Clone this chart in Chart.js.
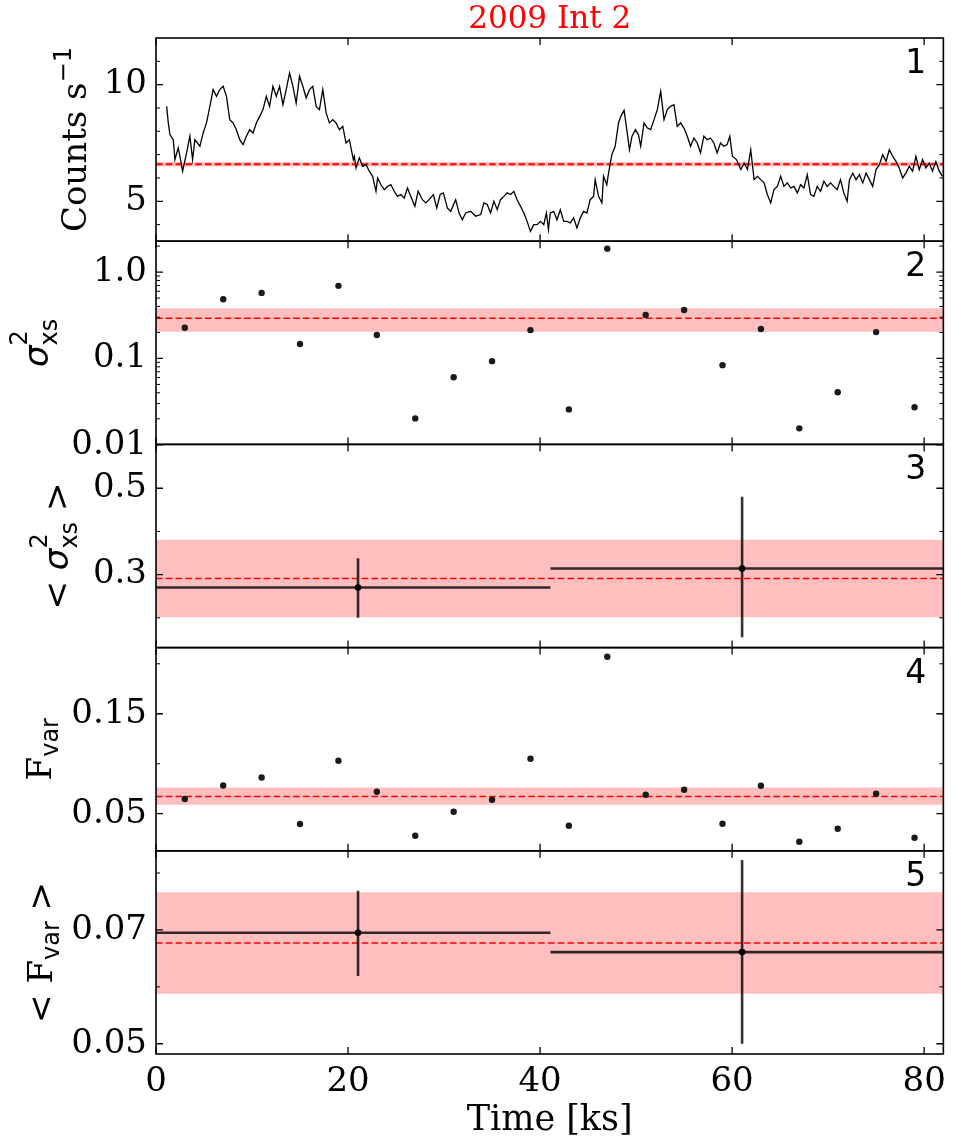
<!DOCTYPE html>
<html>
<head>
<meta charset="utf-8">
<script src="https://cdn.jsdelivr.net/npm/chart.js@4.4.0/dist/chart.umd.min.js"></script>
<style>
  html, body { margin: 0; padding: 0; background: #fff; }
</style>
</head>
<body>
<canvas id="c" width="954" height="1146"></canvas>
<script>
// panel 1: light curve
const lcTime = [1.11,1.28,1.45,1.80,1.97,2.32,2.49,2.77,3.18,3.53,3.81,4.05,4.57,4.91,5.26,5.61,5.95,6.30,6.64,6.99,
  7.34,7.68,8.03,8.37,8.72,9.07,9.41,9.76,10.10,10.45,10.80,11.14,11.49,11.83,12.18,12.53,12.87,13.22,13.56,13.91,
  14.26,14.60,14.95,15.29,15.64,15.99,16.33,16.68,17.02,17.37,17.72,18.06,18.41,18.75,19.10,19.45,19.79,20.14,20.55,
  20.66,20.83,21.18,21.52,21.87,22.22,22.56,22.91,23.08,23.43,23.77,24.12,24.46,24.81,25.16,25.50,25.85,26.19,26.54,
  26.96,27.30,27.75,28.10,28.44,28.89,29.24,29.59,29.93,30.35,30.69,31.21,31.56,31.90,32.25,32.77,33.29,33.81,34.15,
  34.50,34.84,35.19,35.54,35.88,36.23,36.57,36.92,37.27,37.61,37.96,38.31,38.65,39.00,39.34,39.69,40.04,40.38,40.66,
  40.87,41.07,41.42,41.76,42.11,42.46,42.80,43.15,43.49,43.84,44.19,44.53,44.88,45.22,45.57,45.74,46.09,46.44,46.61,
  46.95,47.13,47.47,47.82,48.17,48.41,48.75,49.03,49.31,49.58,49.93,50.24,50.48,50.83,51.18,51.52,51.87,52.21,52.56,
  52.91,53.25,53.60,53.94,54.29,54.64,54.98,55.33,55.67,56.02,56.37,56.71,57.06,57.40,57.75,58.10,58.44,58.79,59.13,
  59.48,59.76,60.03,60.45,60.91,61.25,61.60,61.94,62.29,62.64,62.98,63.33,63.67,64.02,64.36,64.71,65.06,65.40,65.75,
  66.10,66.44,66.79,67.13,67.48,67.83,68.17,68.52,68.86,69.21,69.56,69.90,70.25,70.59,70.94,71.29,71.63,71.98,72.22,
  72.57,72.91,73.26,73.61,73.95,74.30,74.64,74.99,75.34,75.68,76.03,76.37,76.72,77.07,77.41,77.76,78.10,78.45,78.80,
  79.14,79.49,79.84,80.18,80.53,80.87,81.22,81.57,81.91];
const lcRate = [9.07,8.36,7.86,7.64,6.79,7.29,6.93,6.29,7.07,7.79,6.79,7.64,7.36,7.93,8.36,9.07,9.79,9.50,9.79,9.93,
  9.50,8.50,8.36,8.07,7.64,7.43,7.79,8.07,7.93,8.36,8.64,8.93,9.50,9.07,9.93,9.50,9.93,9.14,9.79,10.50,
  9.93,9.21,10.36,9.93,9.43,9.79,9.93,9.07,8.93,9.79,8.79,8.36,8.50,8.36,8.07,8.21,7.50,7.64,6.79,
  6.93,6.43,6.86,6.50,6.57,6.29,6.07,5.43,6.00,5.71,5.50,5.64,5.71,5.43,5.21,5.29,5.14,5.57,5.21,
  4.79,5.43,5.07,4.93,5.07,5.29,4.71,5.29,5.36,4.71,4.57,5.07,4.50,4.21,4.50,4.57,4.36,4.43,4.93,
  4.86,4.50,5.00,4.64,5.07,5.21,5.36,5.29,5.43,5.07,4.79,4.50,4.14,3.71,4.00,4.00,4.14,4.00,4.50,
  3.79,4.50,4.57,4.21,4.64,4.14,4.14,4.07,4.29,3.86,4.29,4.57,4.50,5.07,5.21,5.93,5.21,4.93,6.07,
  5.71,6.21,7.00,7.36,8.36,8.64,8.90,8.07,7.21,7.79,8.07,7.86,7.36,8.36,8.14,8.07,8.50,8.93,9.71,
  8.50,8.93,9.07,9.14,8.21,8.36,8.14,7.79,7.36,7.71,7.50,7.07,7.79,7.64,7.71,7.50,7.07,7.50,7.36,
  7.43,7.79,6.93,6.79,6.36,6.64,6.36,7.21,5.93,6.07,5.93,5.79,5.29,4.93,5.50,5.64,6.07,5.64,5.79,
  5.57,5.64,5.36,5.71,5.57,6.14,5.29,5.21,5.64,5.43,5.86,5.64,5.79,5.64,5.50,5.93,5.36,5.00,5.93,
  6.21,5.93,6.14,5.79,6.21,5.93,5.64,6.36,6.57,7.00,6.71,7.21,6.93,6.71,6.43,6.00,6.21,6.50,6.29,
  6.93,6.36,6.79,6.43,6.64,6.29,6.71,6.29,6.07];
const lcMean = 6.59;
const lcBand = [6.49, 6.69];

// panels 2 and 4: per-segment values
const binTime = [3, 7, 11, 15, 19, 23, 27, 31, 35, 39, 43, 47, 51, 55, 59, 63, 67, 71, 75, 79];
const sigmaXs = [0.227, 0.485, 0.574, 0.147, 0.693, 0.187, 0.0202, 0.0606, 0.093, 0.213,
  0.0257, 1.87, 0.319, 0.364, 0.0836, 0.219, 0.0155, 0.0406, 0.202, 0.0272];
const sigmaMean = 0.292;
const sigmaBand = [0.204, 0.381];
const fVar = [0.0647, 0.0783, 0.0863, 0.0397, 0.103, 0.072, 0.028, 0.052, 0.064, 0.105,
  0.038, 0.207, 0.069, 0.074, 0.040, 0.078, 0.022, 0.035, 0.070, 0.026];
const fVarMean = 0.0673;
const fVarBand = [0.059, 0.0763];

// panels 3 and 5: averages with error bars
const avgTime = [21.04, 61.04];
const avgLeft = [0, 41.08];
const avgRight = [41.08, 82];
const avgSigma = [0.270, 0.314];
const avgSigmaLo = [0.200, 0.155];
const avgSigmaHi = [0.338, 0.480];
const avgSigmaMean = 0.291;
const avgSigmaBand = [0.201, 0.381];
const avgFvar = [0.0695, 0.0661];
const avgFvarLo = [0.0619, 0.0500];
const avgFvarHi = [0.0769, 0.0823];
const avgFvarMean = 0.0677;
const avgFvarBand = [0.0588, 0.0766];

// axes
const xRange = [0, 82];
const xTicks = [0, 20, 40, 60, 80];
const yRange = { y1: [3.29, 12.0], y2: [0.0101, 2.28], y3: [0.131, 0.6015], y4: [0.0129, 0.2162], y5: [0.0482, 0.0839] };
const yTicks = { y1: [5, 10], y2: [0.01, 0.1, 1], y3: [0.3, 0.5], y4: [0.05, 0.15], y5: [0.05, 0.07] };
const yTickLabels = { y1: ["5", "10"], y2: ["0.01", "0.1", "1.0"], y3: ["0.3", "0.5"], y4: ["0.05", "0.15"], y5: ["0.05", "0.07"] };
const yMinor = {
  y1: [4, 6, 7, 8, 9, 11],
  y2: [0.02, 0.03, 0.04, 0.05, 0.06, 0.07, 0.08, 0.09, 0.2, 0.3, 0.4, 0.5, 0.6, 0.7, 0.8, 0.9, 2],
  y3: [0.2, 0.4],
  y4: [0.1, 0.2],
  y5: [0.06, 0.08]
};
const panelKeys = ["y1", "y2", "y3", "y4", "y5"];

const SERIF = "DejaVu Serif";
const SANS = "DejaVu Sans";
const bandColor = "rgba(255,0,0,0.25)";
const datasets = [];

function addBand(axis, lo, hi) {
  const idx = datasets.length;
  datasets.push({ type: "line", yAxisID: axis, data: [{ x: xRange[0], y: lo }, { x: xRange[1], y: lo }],
    borderWidth: 0, pointRadius: 0, fill: false, order: 4 });
  datasets.push({ type: "line", yAxisID: axis, data: [{ x: xRange[0], y: hi }, { x: xRange[1], y: hi }],
    borderWidth: 0, pointRadius: 0, fill: idx, backgroundColor: bandColor, order: 4 });
}
function addMean(axis, m, w) {
  datasets.push({ type: "line", yAxisID: axis, data: [{ x: xRange[0], y: m }, { x: xRange[1], y: m }],
    borderColor: "#ff0000", borderWidth: w, borderDash: [6.5, 3.3], pointRadius: 0, fill: false, order: 2 });
}
function addErrorBars(axis, ys, lo, hi) {
  ys.forEach((y, i) => {
    datasets.push({ type: "line", yAxisID: axis, data: [{ x: avgLeft[i], y: y }, { x: avgRight[i], y: y }],
      borderColor: "rgba(0,0,0,0.8)", borderWidth: 2.6, pointRadius: 0, fill: false, order: 1 });
    datasets.push({ type: "line", yAxisID: axis, data: [{ x: avgTime[i], y: lo[i] }, { x: avgTime[i], y: hi[i] }],
      borderColor: "rgba(0,0,0,0.8)", borderWidth: 2.6, pointRadius: 0, fill: false, order: 1 });
  });
  datasets.push({ type: "scatter", yAxisID: axis, data: ys.map((y, i) => ({ x: avgTime[i], y: y })),
    pointRadius: 3.3, backgroundColor: "#000", borderWidth: 0, order: 0 });
}
function addDots(axis, vals) {
  datasets.push({ type: "scatter", yAxisID: axis, data: vals.map((v, i) => ({ x: binTime[i], y: v })),
    pointRadius: 3.2, backgroundColor: "#1a1a1a", borderWidth: 0, order: 0 });
}

// panel 1
addBand("y1", lcBand[0], lcBand[1]);
addMean("y1", lcMean, 2);
datasets.push({ type: "line", yAxisID: "y1", data: lcTime.map((t, i) => ({ x: t, y: lcRate[i] })),
  borderColor: "#000", borderWidth: 1.3, pointRadius: 0, fill: false, tension: 0, order: 1 });
// panel 2
addBand("y2", sigmaBand[0], sigmaBand[1]);
addMean("y2", sigmaMean, 1.5);
addDots("y2", sigmaXs);
// panel 3
addBand("y3", avgSigmaBand[0], avgSigmaBand[1]);
addMean("y3", avgSigmaMean, 1.5);
addErrorBars("y3", avgSigma, avgSigmaLo, avgSigmaHi);
// panel 4
addBand("y4", fVarBand[0], fVarBand[1]);
addMean("y4", fVarMean, 1.5);
addDots("y4", fVar);
// panel 5
addBand("y5", avgFvarBand[0], avgFvarBand[1]);
addMean("y5", avgFvarMean, 1.5);
addErrorBars("y5", avgFvar, avgFvarLo, avgFvarHi);

function yAxis(key, type, weight) {
  return {
    type: type, min: yRange[key][0], max: yRange[key][1], position: "left",
    stack: "panels", stackWeight: 1, weight: weight, offset: false,
    grid: { display: false, drawTicks: false }, border: { display: false },
    ticks: { autoSkip: false, padding: 9, color: "#000", font: { family: SERIF, size: 34 },
      callback: (v, i) => yTickLabels[key][i] },
    afterBuildTicks: s => { s.ticks = yTicks[key].map(v => ({ value: v })); },
    afterFit: s => { s.width = 156; }
  };
}

// one label drawn rotated, with super/subscripts; parts with stack:true start where the previous part started
function drawRichLabel(ctx, bx, cy, parts) {
  let x = 0, lastStart = 0;
  const items = [];
  for (const p of parts) {
    ctx.font = p.f;
    const w = ctx.measureText(p.t).width;
    const start = p.stack ? lastStart : x;
    items.push({ p: p, start: start });
    lastStart = start;
    x = Math.max(x, start + w);
  }
  ctx.save();
  ctx.translate(bx, cy);
  ctx.rotate(-Math.PI / 2);
  ctx.textAlign = "left";
  ctx.textBaseline = "alphabetic";
  ctx.fillStyle = "#000";
  for (const it of items) {
    ctx.font = it.p.f;
    ctx.fillText(it.p.t, it.start - x / 2, it.p.dy || 0);
  }
  ctx.restore();
}

const big = "34px '" + SERIF + "'";
const bigSans = "34px '" + SANS + "'";
const sigma = "italic 34px '" + SANS + "'";
const small = "24px '" + SANS + "'";
const yLabels = {
  y1: { bx: 86, parts: [{ t: "Counts s", f: big }, { t: "\u22121", f: small, dy: -15 }] },
  y2: { bx: 48, parts: [{ t: "\u03c3", f: sigma }, { t: "2", f: small, dy: -21 }, { t: "xs", f: small, dy: 9, stack: true }] },
  y3: { bx: 68, parts: [{ t: "< ", f: bigSans }, { t: "\u03c3", f: sigma }, { t: "2", f: small, dy: -21 },
    { t: "xs", f: small, dy: 9, stack: true }, { t: " >", f: bigSans }] },
  y4: { bx: 51, parts: [{ t: "F", f: big }, { t: "var", f: small, dy: 7 }] },
  y5: { bx: 52, parts: [{ t: "< ", f: bigSans }, { t: "F", f: big }, { t: "var", f: small, dy: 7 }, { t: " >", f: bigSans }] }
};

const framePlugin = {
  id: "frames",
  afterDraw(chart) {
    const ctx = chart.ctx;
    const xs = chart.scales.x;
    const a = chart.chartArea;
    ctx.save();
    ctx.strokeStyle = "#000";
    panelKeys.forEach((k, n) => {
      const s = chart.scales[k];
      const top = s.top, bot = s.bottom;
      ctx.lineWidth = 1.3;
      ctx.beginPath();
      yTicks[k].forEach(v => {
        const y = s.getPixelForValue(v);
        ctx.moveTo(a.left, y); ctx.lineTo(a.left + 7, y);
        ctx.moveTo(a.right, y); ctx.lineTo(a.right - 7, y);
      });
      xTicks.forEach(v => {
        const x = xs.getPixelForValue(v);
        ctx.moveTo(x, top); ctx.lineTo(x, top + 7);
        ctx.moveTo(x, bot); ctx.lineTo(x, bot - 7);
      });
      ctx.stroke();
      ctx.lineWidth = 1;
      ctx.beginPath();
      yMinor[k].forEach(v => {
        const y = s.getPixelForValue(v);
        ctx.moveTo(a.left, y); ctx.lineTo(a.left + 4, y);
        ctx.moveTo(a.right, y); ctx.lineTo(a.right - 4, y);
      });
      ctx.stroke();
      ctx.lineWidth = 1.6;
      ctx.strokeRect(a.left, top, a.right - a.left, bot - top);

      ctx.fillStyle = "#000";
      ctx.font = "33px '" + SANS + "'";
      ctx.textAlign = "right";
      ctx.textBaseline = "alphabetic";
      ctx.fillText(String(n + 1), a.right - 17, top + 35);

      drawRichLabel(ctx, yLabels[k].bx, (top + bot) / 2, yLabels[k].parts);
    });

    ctx.fillStyle = "#ff0000";
    ctx.font = "31px '" + SERIF + "'";
    ctx.textAlign = "center";
    ctx.textBaseline = "alphabetic";
    ctx.fillText("2009 Int 2", (a.left + a.right) / 2, 28);
    ctx.restore();
  }
};

new Chart(document.getElementById("c"), {
  data: { datasets: datasets },
  options: {
    responsive: false,
    animation: false,
    events: [],
    layout: { padding: { left: 0, right: 9, top: 38, bottom: 0 } },
    plugins: { legend: { display: false }, tooltip: { enabled: false }, title: { display: false } },
    scales: {
      x: {
        type: "linear", min: xRange[0], max: xRange[1], position: "bottom",
        grid: { display: false, drawTicks: false }, border: { display: false },
        ticks: { autoSkip: false, padding: 8, color: "#000", font: { family: SERIF, size: 34 },
          callback: (v, i) => String(xTicks[i]) },
        afterBuildTicks: s => { s.ticks = xTicks.map(v => ({ value: v })); },
        title: { display: true, text: "Time [ks]", color: "#000", font: { family: SERIF, size: 35 },
          padding: { top: 0, bottom: 4 } },
        afterFit: s => { s.height = 92; }
      },
      y1: yAxis("y1", "linear", 5),
      y2: yAxis("y2", "logarithmic", 4),
      y3: yAxis("y3", "linear", 3),
      y4: yAxis("y4", "linear", 2),
      y5: yAxis("y5", "linear", 1)
    }
  },
  plugins: [framePlugin]
});
</script>
</body>
</html>
